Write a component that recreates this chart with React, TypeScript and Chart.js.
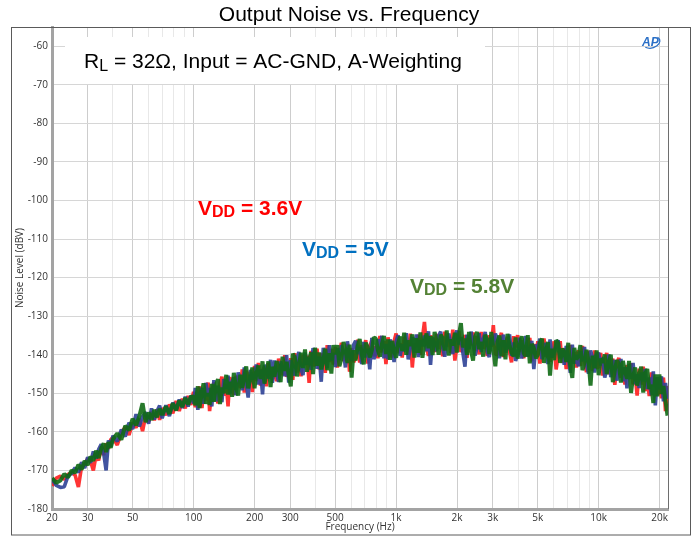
import React, { useEffect, useRef } from 'react';
import { Chart, registerables } from 'chart.js';

Chart.register(...registerables);

// ---------- data ----------
const FREQ_HZ = [
  20, 21, 22, 23, 24, 25, 26, 27, 28, 29, 30, 31, 32, 33, 34, 35, 36, 37, 38, 39, 40, 42, 44, 46, 48,
  50, 52, 54, 56, 58, 60, 62, 64, 66, 68, 70, 73, 76, 79, 82, 85, 88, 91, 94, 97,
  100, 102, 105, 107, 110, 112, 115, 118, 120, 123, 126, 129, 132, 135, 138, 141, 145, 148, 151, 155,
  158, 162, 166, 170, 174, 178, 182, 186, 191, 195, 200, 204, 209, 214, 219, 224, 229, 234, 240, 245,
  251, 257, 263, 269, 275, 282, 288, 295, 302, 309, 316, 324, 331, 339, 347, 355, 363, 372, 380, 389,
  398, 407, 417, 427, 437, 447, 457, 468, 479, 490, 501, 513, 525, 537, 550, 562, 575, 589, 603, 617,
  631, 646, 661, 676, 692, 708, 724, 741, 759, 776, 794, 813, 832, 851, 871, 891, 912, 933, 955, 977,
  1000, 1023, 1047, 1072, 1096, 1122, 1148, 1175, 1202, 1230, 1259, 1288, 1318, 1349, 1380, 1413, 1445, 1479, 1514, 1549,
  1585, 1622, 1660, 1698, 1738, 1778, 1820, 1862, 1905, 1950, 1995, 2042, 2089, 2138, 2188, 2239, 2291, 2344, 2399, 2455,
  2512, 2570, 2630, 2692, 2754, 2818, 2884, 2951, 3020, 3090, 3162, 3236, 3311, 3388, 3467, 3548, 3631, 3715, 3802, 3890,
  3981, 4074, 4169, 4266, 4365, 4467, 4571, 4677, 4786, 4898, 5012, 5129, 5248, 5370, 5495, 5623, 5754, 5888, 6026, 6166,
  6310, 6457, 6607, 6761, 6918, 7079, 7244, 7413, 7586, 7762, 7943, 8128, 8318, 8511, 8710, 8913, 9120, 9333, 9550, 9772,
  10000, 10230, 10470, 10720, 10960, 11220, 11480, 11750, 12020, 12300, 12590, 12880, 13180, 13490, 13800, 14130, 14450, 14790, 15140, 15490,
  15850, 16220, 16600, 16980, 17380, 17780, 18200, 18620, 19050, 19500, 19950, 20420, 20890, 21380, 21880,
];

// VDD = 3.6V (red)
const NOISE_VDD_36 = [
  -174.0, -172.0, -171.5, -172.3, -171.0, -170.6, -171.2, -174.3, -169.0, -168.5, -167.0, -167.6, -170.0, -166.2, -167.4,
  -163.8, -166.0, -163.0, -164.4, -162.0, -161.5, -163.4, -160.2, -158.8, -160.8, -157.6, -158.9, -156.5, -159.8, -155.8,
  -157.4, -154.8, -157.0, -154.2, -156.9, -153.8, -155.7, -152.9, -155.2, -152.0, -154.6, -151.4, -153.9, -150.7, -153.0,
  -149.6, -153.6, -150.1, -148.2, -153.8, -149.3, -151.8, -147.2, -154.6, -149.4,
  -147.2, -150.2, -152.6, -147.4, -145.7, -150.6, -147.7, -153.4, -145.8, -149.1,
  -150.4, -145.5, -146.9, -148.6, -143.8, -149.8, -144.1, -146.6, -144.5, -149.7,
  -142.9, -146.8, -142.1, -148.0, -144.1, -143.1, -148.2, -142.2, -145.2, -146.4,
  -142.9, -146.9, -141.0, -143.2, -145.3, -140.1, -145.7, -143.6, -140.9, -146.5,
  -139.6, -144.6, -141.4, -145.6, -140.0, -142.6, -140.2, -147.3, -139.0, -142.9,
  -142.2, -138.4, -143.8, -139.7, -140.7, -144.7, -137.5, -141.9, -138.5, -142.5,
  -138.0, -143.3, -139.5, -136.9, -141.6, -140.0, -137.2, -144.4, -138.3, -141.9,
  -140.9, -136.1, -142.0, -137.5, -139.3, -136.2, -142.3, -137.8, -136.3, -140.4,
  -137.8, -140.9, -135.1, -139.4, -136.4, -142.4, -135.5, -138.2, -140.7, -136.5,
  -134.5, -139.6, -137.0, -140.7, -135.4, -136.5, -139.9, -134.5, -143.3, -137.1,
  -138.0, -134.8, -140.0, -135.6, -131.5, -138.2, -140.3, -135.0, -136.5, -139.3,
  -134.6, -138.5, -136.4, -140.4, -134.0, -137.8, -135.3, -139.5, -133.5, -141.5,
  -137.9, -133.8, -139.3, -136.7, -134.9, -140.8, -135.7, -137.4, -134.2, -139.0,
  -135.1, -139.9, -134.1, -138.4, -136.4, -140.3, -134.9, -137.9, -132.3, -139.8,
  -140.0, -136.4, -134.3, -140.6, -137.2, -135.4, -139.2, -142.0, -135.2, -138.1,
  -134.9, -139.2, -136.2, -140.9, -137.6, -139.1, -135.6, -141.7, -137.2, -140.5,
  -136.5, -142.3, -138.4, -135.8, -140.5, -137.8, -141.8, -139.5, -136.5, -143.8,
  -140.3, -136.5, -142.1, -138.3, -143.7, -139.3, -137.5, -141.9, -139.3, -143.3,
  -138.8, -142.9, -137.7, -141.6, -144.5, -139.0, -141.1, -144.2, -138.9, -143.4,
  -143.2, -139.5, -145.4, -141.5, -139.5, -145.0, -143.5, -141.0, -147.8, -142.1,
  -140.8, -146.0, -143.3, -147.7, -142.7, -145.6, -142.2, -147.7, -145.1, -150.6,
  -143.6, -147.7, -143.1, -149.4, -146.2, -150.7, -144.6, -148.2, -146.0, -150.4,
  -146.2, -151.3, -145.9, -154.6, -148.1,
];

// VDD = 5V (blue)
const NOISE_VDD_5 = [
  -172.3, -173.9, -174.4, -174.2, -171.4, -170.8, -169.3, -170.5, -167.9, -169.4, -166.6, -168.0, -165.1, -166.9, -164.5,
  -163.2, -165.6, -170.0, -162.2, -163.8, -161.0, -162.5, -159.4, -161.2, -157.6, -159.3, -155.4, -158.6, -156.0, -154.9,
  -157.9, -153.9, -156.8, -154.6, -153.2, -156.5, -153.1, -155.9, -152.4, -154.3, -151.6, -153.8, -150.9, -153.4, -150.6,
  -152.6, -148.6, -154.3, -150.4, -148.6, -152.7, -147.3, -150.8, -148.6, -153.4,
  -146.6, -152.1, -148.0, -150.0, -152.3, -146.3, -148.8, -145.4, -150.2, -146.9,
  -145.9, -150.5, -144.6, -146.8, -149.2, -143.3, -147.4, -151.1, -143.9, -146.3,
  -145.9, -142.5, -147.7, -143.8, -150.3, -142.6, -144.0, -146.2, -141.3, -147.3,
  -141.5, -144.9, -147.0, -141.7, -143.3, -145.5, -140.1, -147.2, -141.4, -143.0,
  -145.4, -141.1, -139.3, -143.7, -145.3, -139.4, -142.6, -140.7, -143.9, -138.3,
  -139.7, -143.6, -140.5, -147.0, -138.2, -141.0, -143.5, -137.5, -141.5, -139.5,
  -143.2, -138.3, -141.4, -137.5, -139.1, -143.3, -136.5, -140.5, -141.5, -137.4,
  -136.4, -139.8, -138.0, -142.4, -136.7, -140.7, -138.4, -143.8, -135.6, -141.1,
  -139.7, -136.0, -138.6, -135.1, -140.9, -137.2, -141.2, -136.1, -137.5, -141.9,
  -136.6, -134.9, -140.3, -137.3, -139.1, -134.4, -141.2, -138.2, -135.4, -139.5,
  -134.7, -140.6, -136.2, -137.8, -135.0, -139.1, -133.9, -142.6, -135.6, -136.9,
  -139.1, -135.1, -134.0, -138.2, -140.5, -136.3, -134.5, -137.0, -139.8, -135.3,
  -133.7, -137.4, -135.4, -139.6, -143.1, -134.8, -138.6, -134.0, -137.3, -140.2,
  -137.8, -134.4, -139.3, -135.9, -134.1, -139.1, -140.6, -135.6, -137.5, -134.5,
  -135.9, -140.9, -137.3, -134.8, -139.4, -138.1, -134.7, -140.3, -136.8, -141.6,
  -139.8, -135.6, -141.0, -137.2, -135.2, -140.5, -139.0, -136.4, -143.7, -137.4,
  -138.1, -135.8, -141.1, -139.7, -136.9, -142.4, -136.0, -140.7, -139.4, -137.6,
  -136.2, -140.9, -138.8, -142.6, -137.7, -140.5, -144.7, -137.4, -142.3, -140.0,
  -143.0, -139.1, -141.7, -138.0, -142.6, -144.9, -138.9, -140.7, -144.6, -140.0,
  -139.5, -142.8, -140.7, -145.9, -143.8, -139.9, -145.8, -142.8, -141.4, -146.7,
  -144.2, -141.1, -146.9, -143.2, -148.7, -142.4, -146.3, -142.1, -147.6, -145.0,
  -148.6, -144.6, -146.9, -143.7, -148.9, -145.9, -150.5, -144.3, -153.1, -145.8,
  -149.0, -145.6, -152.1, -147.3, -151.4,
];

// VDD = 5.8V (green)
const NOISE_VDD_58 = [
  -172.0, -173.2, -172.6, -170.9, -171.8, -170.0, -170.6, -168.5, -169.8, -167.5, -168.6, -166.4, -167.5, -164.9, -166.8,
  -164.3, -163.0, -165.2, -162.7, -164.1, -161.9, -160.4, -162.0, -158.4, -159.6, -156.6, -158.3, -155.9, -152.6, -157.5,
  -155.0, -156.9, -154.3, -156.2, -154.0, -155.6, -153.4, -155.3, -152.6, -154.4, -151.9, -153.5, -151.2, -152.9, -150.9,
  -150.8, -153.1, -148.2, -153.8, -149.6, -147.4, -152.7, -149.9, -153.0, -147.6,
  -152.2, -147.9, -146.3, -152.8, -148.5, -150.0, -145.2, -150.3, -147.0, -150.9,
  -144.7, -148.3, -150.6, -145.2, -148.6, -145.7, -143.0, -148.7, -146.1, -143.3,
  -148.7, -144.9, -142.8, -146.3, -141.7, -147.5, -144.9, -141.7, -148.4, -143.1,
  -145.7, -141.7, -143.0, -147.1, -140.5, -144.2, -141.8, -145.3, -148.2, -139.7,
  -140.7, -145.6, -142.8, -139.5, -143.4, -138.6, -144.4, -141.3, -139.4, -145.0,
  -138.2, -142.8, -139.4, -143.8, -141.5, -138.4, -144.0, -139.6, -144.9, -137.5,
  -139.9, -137.5, -143.0, -141.0, -136.7, -138.7, -142.1, -137.4, -145.9, -138.8,
  -141.5, -137.8, -135.9, -139.8, -142.5, -136.9, -138.0, -140.7, -138.9, -135.5,
  -135.8, -138.8, -140.5, -137.2, -135.1, -139.8, -136.0, -141.3, -136.4, -138.9,
  -140.8, -136.9, -135.3, -139.0, -134.3, -140.0, -136.3, -137.7, -134.7, -140.7,
  -135.7, -139.5, -134.2, -140.8, -136.7, -134.5, -138.3, -135.2, -140.1, -134.1,
  -136.6, -140.0, -134.8, -135.7, -138.9, -133.7, -140.2, -136.0, -137.6, -134.3,
  -139.4, -134.9, -131.8, -138.1, -135.8, -140.0, -134.1, -139.0, -141.5, -135.3,
  -134.1, -138.6, -136.6, -140.5, -134.8, -136.2, -139.8, -134.1, -138.4, -143.0,
  -136.7, -135.0, -140.4, -136.2, -141.2, -134.6, -137.6, -139.5, -140.4, -135.5,
  -141.0, -137.7, -135.2, -139.6, -140.4, -134.9, -142.2, -137.2, -138.3, -140.9,
  -140.0, -136.9, -135.8, -142.1, -139.1, -136.7, -145.4, -138.4, -141.4, -136.2,
  -137.0, -142.1, -138.4, -139.4, -141.8, -136.9, -143.0, -146.0, -138.2, -141.2,
  -140.3, -137.5, -144.0, -142.0, -138.7, -141.6, -148.0, -140.2, -143.5, -138.9,
  -145.3, -141.0, -142.1, -139.9, -145.0, -142.1, -140.0, -147.1, -144.0, -141.4,
  -142.4, -147.2, -141.6, -144.3, -146.2, -141.6, -149.9, -145.7, -143.3, -148.0,
  -145.2, -143.1, -149.8, -144.9, -143.7, -148.8, -147.8, -152.5, -145.1, -150.8,
  -145.1, -150.1, -148.1, -152.0, -155.8,
];

const X_GRID = [
  20, 30, 40, 50, 60, 70, 80, 90, 100, 200, 300, 400, 500, 600, 700, 800, 900,
  1000, 2000, 3000, 4000, 5000, 6000, 7000, 8000, 9000, 10000, 20000,
];
const X_LABELED = [20, 30, 50, 100, 200, 300, 500, 1000, 2000, 3000, 5000, 10000, 20000];
const Y_TICKS = [-180, -170, -160, -150, -140, -130, -120, -110, -100, -90, -80, -70, -60];
const X_MIN = 20;
const X_MAX = 22000;
const Y_MIN = -180;
const Y_MAX = -55;

const TITLE = 'Output Noise vs. Frequency';
const X_TITLE = 'Frequency (Hz)';
const Y_TITLE = 'Noise Level (dBV)';
const NOTE_MAIN = 'R';
const NOTE_SUB = 'L';
const NOTE_REST = ' = 32\u03A9, Input = AC-GND, A-Weighting';
const SERIES_LABELS = ['= 3.6V', '= 5V', '= 5.8V'];

const SANS = '"Liberation Sans", Arial, sans-serif';
const TICK_FONT = '"Open Sans", "Noto Sans", sans-serif';

function fmtHz(v: number): string {
  return v >= 1000 ? v / 1000 + 'k' : String(v);
}

function drawSub(
  ctx: CanvasRenderingContext2D, main: string, sub: string, rest: string,
  x: number, y: number, size: number, subSize: number, weight: string, color: string, drop: number,
) {
  ctx.fillStyle = color;
  ctx.textAlign = 'left';
  ctx.textBaseline = 'alphabetic';
  ctx.font = `${weight} ${size}px ${SANS}`;
  ctx.fillText(main, x, y);
  let cx = x + ctx.measureText(main).width;
  ctx.font = `${weight} ${subSize}px ${SANS}`;
  ctx.fillText(sub, cx, y + drop);
  cx += ctx.measureText(sub).width;
  ctx.font = `${weight} ${size}px ${SANS}`;
  ctx.fillText(rest, cx, y);
}

const decor = {
  id: 'decor',
  beforeDraw(chart: any) {
    const { ctx, width, height } = chart;
    ctx.save();
    ctx.fillStyle = '#ffffff';
    ctx.fillRect(0, 0, width, height);
    ctx.restore();
  },
  afterDraw(chart: any) {
    const { ctx, chartArea: a } = chart;
    ctx.save();
    // plot top / right border
    ctx.strokeStyle = '#6e6e6e';
    ctx.lineWidth = 1;
    ctx.beginPath();
    ctx.moveTo(a.left, a.top + 0.5);
    ctx.lineTo(a.right + 0.5, a.top + 0.5);
    ctx.lineTo(a.right + 0.5, a.bottom);
    ctx.stroke();
    // outer frame
    ctx.strokeStyle = '#5a5a5a';
    ctx.strokeRect(11.5, 27.5, 679, 507.5);

    // annotation box
    ctx.fillStyle = '#ffffff';
    ctx.fillRect(65, 37, 420, 47);
    drawSub(ctx, NOTE_MAIN, NOTE_SUB, NOTE_REST, 84, 68, 21, 16, 'normal', '#000000', 3);

    // series labels
    drawSub(ctx, 'V', 'DD', ' ' + SERIES_LABELS[0], 198, 215, 21, 16, 'bold', '#ff0000', 2);
    drawSub(ctx, 'V', 'DD', ' ' + SERIES_LABELS[1], 302, 256, 21, 16, 'bold', '#0070c0', 2);
    drawSub(ctx, 'V', 'DD', ' ' + SERIES_LABELS[2], 410, 293, 21, 16, 'bold', '#548235', 2);

    // title
    ctx.fillStyle = '#000000';
    ctx.font = `21px ${SANS}`;
    ctx.textAlign = 'center';
    ctx.textBaseline = 'middle';
    ctx.fillText(TITLE, 349, 15);

    // AP logo
    ctx.fillStyle = '#2a6fc6';
    ctx.font = `italic bold 12px ${SANS}`;
    ctx.textAlign = 'left';
    ctx.textBaseline = 'alphabetic';
    ctx.fillText('AP', 642, 46);
    ctx.strokeStyle = '#2a6fc6';
    ctx.lineWidth = 1.2;
    ctx.beginPath();
    ctx.ellipse(651, 42, 9, 6, -0.2, -0.6, 2.4);
    ctx.stroke();
    ctx.restore();
  },
};

export default function App() {
  const ref = useRef<HTMLCanvasElement | null>(null);
  useEffect(() => {
    if (!ref.current) return;
    const mk = (vals: number[]) => FREQ_HZ.map((f, i) => ({ x: f, y: vals[i] }));
    const common = { pointRadius: 0, borderWidth: 3.6, tension: 0, borderJoinStyle: 'bevel' as const, fill: false };
    const chart = new Chart(ref.current, {
      type: 'line',
      data: {
        datasets: [
          { ...common, label: 'VDD = 3.6V', data: mk(NOISE_VDD_36), borderColor: 'rgba(255,30,30,0.9)', order: 3 },
          { ...common, label: 'VDD = 5V', data: mk(NOISE_VDD_5), borderColor: 'rgba(45,65,150,0.9)', order: 2 },
          { ...common, label: 'VDD = 5.8V', data: mk(NOISE_VDD_58), borderColor: 'rgba(16,106,20,0.9)', borderWidth: 4, order: 1 },
        ],
      },
      options: {
        responsive: false,
        animation: false,
        devicePixelRatio: 1,
        layout: { padding: { top: 27, right: 28, left: 0, bottom: 0 } },
        plugins: { legend: { display: false }, tooltip: { enabled: false }, title: { display: false } },
        scales: {
          x: {
            type: 'logarithmic',
            min: X_MIN,
            max: X_MAX,
            afterBuildTicks: (s: any) => { s.ticks = X_GRID.map((v) => ({ value: v })); },
            afterFit: (s: any) => { s.height = 27; },
            ticks: {
              autoSkip: false,
              maxRotation: 0,
              minRotation: 0,
              padding: 3,
              color: '#333333',
              font: { family: TICK_FONT, size: 10 },
              callback: (v: any) => (X_LABELED.includes(Number(v)) ? fmtHz(Number(v)) : ''),
            },
            grid: {
              drawTicks: false,
              color: (c: any) => (X_LABELED.includes(c.tick?.value) ? '#cdcdcd' : '#e8e8e8'),
              lineWidth: 1,
            },
            border: { display: true, color: '#a3a3a3', width: 3 },
            title: {
              display: true, text: X_TITLE, color: '#333333',
              font: { family: TICK_FONT, size: 10 }, padding: { top: 0, bottom: 3 },
            },
          },
          y: {
            type: 'linear',
            min: Y_MIN,
            max: Y_MAX,
            afterBuildTicks: (s: any) => { s.ticks = Y_TICKS.map((v) => ({ value: v })); },
            afterFit: (s: any) => { s.width = 52; },
            ticks: {
              padding: 4,
              color: '#333333',
              font: { family: TICK_FONT, size: 10 },
              callback: (v: any) => String(v),
            },
            grid: { drawTicks: false, color: '#d6d6d6', lineWidth: 1 },
            border: { display: true, color: '#a3a3a3', width: 3 },
            title: {
              display: true, text: Y_TITLE, color: '#333333',
              font: { family: TICK_FONT, size: 10 }, padding: { top: 14, bottom: 0 },
            },
          },
        },
      },
      plugins: [decor],
    } as any);
    return () => chart.destroy();
  }, []);
  return (
    <div style={{ position: 'absolute', left: 0, top: 0, width: 696, height: 536 }}>
      <canvas ref={ref} width={696} height={536} style={{ display: 'block' }} />
    </div>
  );
}
